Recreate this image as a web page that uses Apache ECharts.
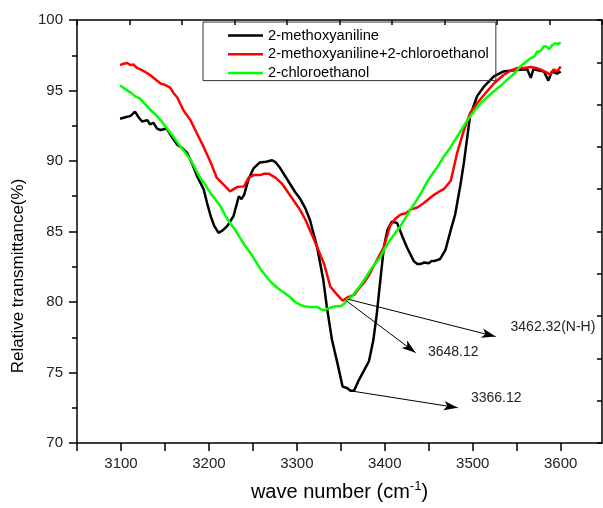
<!DOCTYPE html>
<html>
<head>
<meta charset="utf-8">
<script src="https://cdn.jsdelivr.net/npm/echarts@6/dist/echarts.min.js"></script>
<style>
  html, body { margin: 0; padding: 0; background: #fff; }
  #chart { width: 603px; height: 508px; }
</style>
</head>
<body>
<div id="chart"></div>
<script>
// 2-methoxyaniline
const waveBlack = [3099, 3105, 3111, 3116, 3120, 3124, 3130, 3133, 3137, 3141, 3145, 3152, 3158, 3164, 3170, 3175, 3181, 3186, 3194, 3198, 3202, 3206, 3211, 3216, 3221, 3228, 3234, 3237, 3240, 3245, 3251, 3258, 3265, 3272, 3276, 3281, 3287, 3293, 3298, 3304, 3310, 3315, 3323, 3330, 3334, 3340, 3346, 3352, 3357, 3361, 3365, 3370, 3376, 3382, 3387, 3391, 3395, 3399, 3403, 3408, 3414, 3420, 3425, 3433, 3437, 3441, 3445, 3450, 3453, 3456, 3463, 3469, 3475, 3480, 3486, 3490, 3497, 3505, 3513, 3524, 3535, 3550, 3562, 3566, 3569, 3581, 3586, 3590, 3596, 3600]
const transBlack = [93.0, 93.1, 93.2, 93.5, 93.1, 92.8, 92.9, 92.6, 92.7, 92.3, 92.2, 92.3, 91.7, 91.15, 90.9, 90.6, 89.8, 89.0, 88.0, 87.0, 86.1, 85.4, 84.9, 85.1, 85.4, 86.1, 87.5, 87.3, 87.6, 88.7, 89.5, 89.9, 89.95, 90.05, 89.9, 89.5, 88.9, 88.3, 87.8, 87.3, 86.6, 85.8, 83.9, 81.6, 79.7, 77.3, 75.7, 74.0, 73.9, 73.7, 73.7, 74.4, 75.1, 75.8, 77.3, 79.2, 81.6, 83.9, 85.1, 85.7, 85.6, 84.65, 83.9, 82.9, 82.7, 82.7, 82.8, 82.75, 82.9, 82.9, 83.05, 83.7, 85.1, 86.2, 88.3, 89.9, 93.2, 94.6, 95.3, 96.0, 96.35, 96.45, 96.5, 95.9, 96.5, 96.35, 95.7, 96.35, 96.2, 96.35]

// 2-methoxyaniline+2-chloroethanol
const waveRed = [3099, 3103, 3107, 3111, 3114, 3118, 3122, 3128, 3133, 3139, 3145, 3150, 3156, 3160, 3164, 3171, 3179, 3186, 3194, 3202, 3209, 3217, 3224, 3232, 3240, 3245, 3251, 3258, 3263, 3268, 3276, 3283, 3293, 3304, 3310, 3319, 3325, 3331, 3338, 3346, 3352, 3357, 3365, 3370, 3376, 3382, 3387, 3393, 3399, 3406, 3412, 3418, 3424, 3429, 3437, 3444, 3450, 3456, 3461, 3467, 3475, 3482, 3490, 3497, 3505, 3513, 3524, 3535, 3543, 3551, 3558, 3566, 3572, 3577, 3585, 3588, 3592, 3596, 3600]
const transRed = [96.8, 96.9, 96.95, 96.8, 96.85, 96.6, 96.5, 96.3, 96.1, 95.8, 95.5, 95.4, 95.2, 94.8, 94.5, 93.6, 92.9, 92.0, 91.0, 89.9, 88.8, 88.3, 87.85, 88.15, 88.2, 88.8, 89.0, 89.0, 89.1, 89.1, 88.8, 88.4, 87.5, 86.5, 85.8, 84.5, 83.6, 82.7, 81.1, 80.5, 80.1, 80.3, 80.5, 80.9, 81.35, 81.9, 82.5, 83.2, 83.9, 85.4, 85.9, 86.2, 86.3, 86.55, 86.7, 87.0, 87.3, 87.6, 87.8, 88.0, 88.6, 90.5, 92.2, 93.4, 94.1, 94.7, 95.5, 96.1, 96.4, 96.6, 96.6, 96.67, 96.6, 96.5, 96.25, 96.1, 96.5, 96.35, 96.7]

// 2-chloroethanol
const waveGreen = [3099, 3105, 3111, 3116, 3122, 3128, 3133, 3139, 3145, 3150, 3156, 3162, 3168, 3173, 3179, 3185, 3190, 3196, 3202, 3207, 3213, 3218, 3224, 3230, 3236, 3241, 3247, 3253, 3258, 3264, 3270, 3276, 3281, 3287, 3293, 3298, 3304, 3308, 3315, 3323, 3327, 3331, 3334, 3338, 3344, 3350, 3354, 3357, 3361, 3365, 3372, 3378, 3384, 3390, 3395, 3400, 3406, 3412, 3418, 3424, 3429, 3435, 3441, 3448, 3452, 3460, 3467, 3475, 3482, 3488, 3494, 3501, 3509, 3516, 3524, 3532, 3539, 3547, 3554, 3560, 3566, 3570, 3573, 3577, 3581, 3584, 3587, 3590, 3594, 3597, 3600]
const transGreen = [95.35, 95.1, 94.85, 94.6, 94.4, 94.0, 93.65, 93.3, 92.9, 92.5, 92.0, 91.5, 91.0, 90.6, 90.1, 89.4, 88.8, 88.3, 87.7, 87.3, 86.8, 86.2, 85.6, 85.1, 84.5, 84.0, 83.5, 82.9, 82.4, 81.9, 81.45, 81.1, 80.85, 80.6, 80.3, 80.0, 79.8, 79.7, 79.65, 79.65, 79.5, 79.4, 79.5, 79.6, 79.7, 79.7, 79.9, 80.15, 80.3, 80.6, 81.15, 81.7, 82.3, 82.8, 83.2, 83.8, 84.4, 84.9, 85.4, 86.0, 86.55, 87.1, 87.7, 88.5, 88.9, 89.6, 90.3, 91.0, 91.7, 92.3, 92.9, 93.5, 94.1, 94.5, 94.95, 95.35, 95.75, 96.2, 96.7, 97.0, 97.3, 97.4, 97.75, 97.8, 98.15, 98.1, 97.95, 98.2, 98.35, 98.3, 98.4]

// peak annotations: arrow from point on curve to label
const arrowFrom = [[3358, 80.2], [3356, 80.1], [3361, 73.7]]
const arrowTo = [[3526, 77.55], [3435, 76.4], [3483, 72.5]]
const peakText = ['3462.32(N-H)', '3648.12', '3366.12']
const textAt = [[3543, 78.2], [3449, 76.45], [3498, 73.15]]

const zip = (xs, ys) => xs.map((x, i) => [x, ys[i]])

const font = '"Liberation Sans", Arial, sans-serif'
const myChart = echarts.init(document.getElementById('chart'))

const lineSeries = (name, xs, ys, color) => ({
  name: name,
  type: 'line',
  xAxisIndex: 0,
  yAxisIndex: 0,
  data: zip(xs, ys),
  symbol: 'none',
  showSymbol: false,
  smooth: false,
  lineStyle: { color: color, width: 2.5 },
  itemStyle: { color: color },
  z: 3
})

const blackLine = lineSeries('2-methoxyaniline', waveBlack, transBlack, '#000000')
blackLine.markLine = {
  silent: true,
  symbol: ['none', 'arrow'],
  symbolSize: [7, 14],
  label: { show: false },
  lineStyle: { color: '#000', width: 1, type: 'solid' },
  data: arrowFrom.map((p, i) => [{ coord: p }, { coord: arrowTo[i] }])
}
blackLine.markPoint = {
  silent: true,
  symbol: 'circle',
  symbolSize: 0,
  label: {
    show: true,
    position: 'right',
    distance: 0,
    formatter: '{b}',
    color: '#222',
    fontSize: 14,
    fontFamily: font
  },
  data: textAt.map((p, i) => ({ name: peakText[i], coord: p }))
}

myChart.setOption({
  animation: false,
  backgroundColor: '#fff',
  grid: { left: 77, right: 1, top: 20, bottom: 65, containLabel: false },
  legend: {
    orient: 'vertical',
    left: 203,
    top: 22,
    data: ['2-methoxyaniline', '2-methoxyaniline+2-chloroethanol', '2-chloroethanol'],
    icon: 'rect',
    itemWidth: 35,
    itemHeight: 2.5,
    itemGap: 3.8,
    padding: [6, 7, 0, 25],
    borderColor: '#333',
    borderWidth: 1,
    textStyle: { fontSize: 14.7, color: '#000', fontFamily: font }
  },
  xAxis: [
    {
      type: 'value',
      position: 'bottom',
      min: 3050,
      max: 3647,
      interval: 50,
      splitLine: { show: false },
      axisLine: { show: true, onZero: false, lineStyle: { color: '#000', width: 1.5 } },
      axisTick: { show: true, inside: false, length: 8, lineStyle: { color: '#000', width: 1.5 } },
      axisLabel: {
        margin: 13,
        fontSize: 15,
        color: '#222',
        fontFamily: font,
        showMaxLabel: false,
        formatter: v => (v % 100 === 0 ? String(v) : '')
      },
      name: 'wave number (cm{sup|-1})',
      nameLocation: 'middle',
      nameGap: 37,
      nameTextStyle: {
        fontSize: 20,
        color: '#000',
        fontFamily: font,
        rich: { sup: { fontSize: 13, fontFamily: font, color: '#000', padding: [0, 0, 12, 0] } }
      }
    },
    {
      type: 'value',
      position: 'top',
      min: 0,
      max: 10,
      interval: 1,
      splitLine: { show: false },
      axisLine: { show: true, onZero: false, lineStyle: { color: '#000', width: 1.5 } },
      axisTick: { show: true, inside: true, length: 5, lineStyle: { color: '#000', width: 1.5 } },
      axisLabel: { show: false }
    }
  ],
  yAxis: [
    {
      type: 'value',
      position: 'left',
      min: 70,
      max: 100,
      interval: 5,
      splitLine: { show: false },
      axisLine: { show: true, onZero: false, lineStyle: { color: '#000', width: 1.5 } },
      axisTick: { show: true, inside: false, length: 8, lineStyle: { color: '#000', width: 1.5 } },
      minorTick: { show: true, splitNumber: 2, length: 5, lineStyle: { color: '#000', width: 1.5 } },
      axisLabel: { margin: 14, fontSize: 15, color: '#222', fontFamily: font }
    },
    {
      type: 'value',
      position: 'right',
      min: 0,
      max: 10,
      interval: 1,
      splitLine: { show: false },
      axisLine: { show: true, onZero: false, lineStyle: { color: '#000', width: 1.5 } },
      axisTick: { show: true, inside: true, length: 5, lineStyle: { color: '#000', width: 1.5 } },
      axisLabel: { show: false }
    }
  ],
  graphic: [
    {
      type: 'text',
      x: 18,
      y: 276,
      rotation: Math.PI / 2,
      style: {
        text: 'Relative transmittance(%)',
        font: '17px ' + font,
        fill: '#000',
        textAlign: 'center',
        textVerticalAlign: 'middle'
      }
    }
  ],
  series: [
    blackLine,
    lineSeries('2-methoxyaniline+2-chloroethanol', waveRed, transRed, '#ff0000'),
    lineSeries('2-chloroethanol', waveGreen, transGreen, '#00ff00')
  ]
})
</script>
</body>
</html>
